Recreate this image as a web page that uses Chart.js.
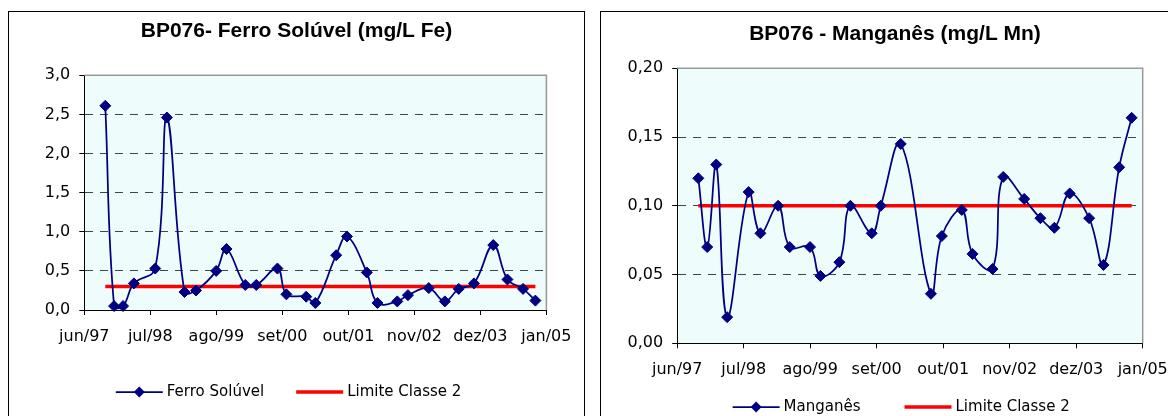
<!DOCTYPE html>
<html>
<head>
<meta charset="utf-8">
<script src="https://cdn.jsdelivr.net/npm/chart.js@4.4.1/dist/chart.umd.min.js"></script>
<style>
html, body { margin: 0; padding: 0; background: #fff; overflow: hidden; width: 1168px; height: 416px; }
.panel { position: absolute; top: 11px; height: 420px; border: 1px solid #000; background: #fff; }
#p1 { left: 8px; width: 575px; }
#p2 { left: 600px; width: 588px; }
canvas { position: absolute; left: 0; top: 0; }
</style>
</head>
<body>
<div class="panel" id="p1"><canvas id="chartFe" width="575" height="404"></canvas></div>
<div class="panel" id="p2"><canvas id="chartMn" width="588" height="404"></canvas></div>
<script>
// sample dates (BP076)
var dates = ['1997-10-05', '1997-11-27', '1998-01-20', '1998-03-24', '1998-07-30', '1998-10-09',
  '1999-01-23', '1999-04-01', '1999-07-30', '1999-10-01', '2000-01-22', '2000-03-27',
  '2000-08-02', '2000-09-25', '2001-01-22', '2001-03-16', '2001-07-19', '2001-09-23',
  '2002-01-20', '2002-03-23', '2002-07-20', '2002-09-23', '2003-01-26', '2003-05-01',
  '2003-07-23', '2003-10-23', '2004-02-17', '2004-05-11', '2004-08-13', '2004-10-26'];

var ferro = [2.61, 0.05, 0.05, 0.34, 0.53, 2.46, 0.23, 0.25, 0.50, 0.78, 0.32, 0.32,
  0.53, 0.20, 0.17, 0.09, 0.70, 0.94, 0.48, 0.09, 0.11, 0.19, 0.28, 0.11,
  0.27, 0.34, 0.83, 0.39, 0.27, 0.12];

var manganes = [0.120, 0.070, 0.130, 0.019, 0.110, 0.080, 0.100, 0.070, 0.070, 0.049, 0.059, 0.100,
  0.080, 0.100, 0.145, null, 0.036, 0.078, 0.097, 0.065, 0.054, 0.121, 0.105, 0.091,
  0.084, 0.109, 0.091, 0.057, 0.128, 0.164];

var limiteFe = 0.3;
var limiteMn = 0.10;

var tickLabels = ['jun/97', 'jul/98', 'ago/99', 'set/00', 'out/01', 'nov/02', 'dez/03', 'jan/05'];

// months since jun/97
function toMonth(d) {
  var p = d.split('-');
  return (+p[0] - 1997) * 12 + (+p[1] - 6) + (+p[2] - 1) / 30;
}

var plotFrame = {
  id: 'plotFrame',
  beforeDraw: function(chart) {
    var a = chart.chartArea, c = chart.ctx;
    c.save();
    c.fillStyle = '#EFFCFC';
    c.fillRect(a.left, a.top, a.right - a.left, a.bottom - a.top);
    c.restore();
  },
  beforeDatasetsDraw: function(chart) {
    var a = chart.chartArea, c = chart.ctx;
    c.save();
    c.strokeStyle = '#999';
    c.lineWidth = 1.5;
    c.beginPath();
    c.moveTo(a.left, a.top);
    c.lineTo(a.right, a.top);
    c.lineTo(a.right, a.bottom);
    c.stroke();
    c.restore();
  }
};

var bpLegend = {
  id: 'bpLegend',
  afterDraw: function(chart, args, opts) {
    var c = chart.ctx;
    var x = opts.x, y = opts.y, len = opts.lineLen;
    c.save();
    c.font = '15px "DejaVu Sans"';
    c.textBaseline = 'middle';
    chart.data.datasets.forEach(function(ds) {
      c.strokeStyle = ds.borderColor;
      c.lineWidth = ds.borderWidth;
      c.beginPath();
      c.moveTo(x, y);
      c.lineTo(x + len, y);
      c.stroke();
      if (ds.pointRadius > 0) {
        var cx = x + len / 2, r = ds.pointRadius;
        c.fillStyle = ds.backgroundColor;
        c.beginPath();
        c.moveTo(cx, y - r);
        c.lineTo(cx + r, y);
        c.lineTo(cx, y + r);
        c.lineTo(cx - r, y);
        c.closePath();
        c.fill();
      }
      c.fillStyle = '#000';
      c.fillText(ds.label, x + len + 4, y);
      x += len + 4 + c.measureText(ds.label).width + opts.gap;
    });
    c.restore();
  }
};

function lineChart(canvasId, title, label, values, limit, yMax, yStep, decimals, L) {
  var pts = [];
  for (var i = 0; i < dates.length; i++) {
    pts.push({ x: toMonth(dates[i]), y: values[i] });
  }
  var first = toMonth(dates[0]);
  var last = toMonth(dates[dates.length - 1]);
  var ctx = document.getElementById(canvasId).getContext('2d');
  return new Chart(ctx, {
    type: 'line',
    data: {
      datasets: [{
        label: label,
        data: pts,
        borderColor: '#000080',
        backgroundColor: '#000080',
        borderWidth: 1.75,
        pointStyle: 'rectRot',
        pointRadius: 5.5,
        pointBorderWidth: 1,
        tension: 0.4,
        spanGaps: true,
        clip: false
      }, {
        label: 'Limite Classe 2',
        data: [{ x: first, y: limit }, { x: last, y: limit }],
        borderColor: '#FF0000',
        backgroundColor: '#FF0000',
        borderWidth: 3.5,
        pointRadius: 0,
        tension: 0
      }]
    },
    options: {
      responsive: false,
      animation: false,
      devicePixelRatio: 1,
      layout: { padding: 0 },
      plugins: {
        legend: { display: false },
        tooltip: { enabled: false },
        title: {
          display: true,
          text: title,
          color: '#000',
          font: { family: 'Liberation Sans', size: 21, weight: 'bold', lineHeight: 1.2 },
          padding: { top: L.titleTop, bottom: L.titleBottom }
        },
        bpLegend: { x: L.legendX, y: L.legendY, gap: L.legendGap, lineLen: 47 }
      },
      scales: {
        x: {
          type: 'linear',
          min: 0,
          max: 91,
          afterFit: function(s) { s.height = L.xHeight; },
          border: { color: '#000', width: 1 },
          grid: { drawOnChartArea: false, tickLength: 5, tickColor: '#000' },
          ticks: {
            stepSize: 13,
            autoSkip: false,
            maxRotation: 0,
            padding: 12,
            color: '#000',
            font: { family: 'DejaVu Sans', size: 16 },
            callback: function(v) { return tickLabels[Math.round(v / 13)]; }
          }
        },
        y: {
          min: 0,
          max: yMax,
          afterFit: function(s) { s.width = L.yWidth; },
          border: { color: '#000', width: 1, dash: [8, 7] },
          grid: {
            color: function(c) {
              if (!c.tick || c.tick.value <= 0 || c.tick.value >= yMax - 1e-9) return 'rgba(0,0,0,0)';
              return '#444';
            },
            tickLength: 5,
            tickColor: '#000',
            tickBorderDash: []
          },
          ticks: {
            stepSize: yStep,
            padding: 9,
            color: '#000',
            font: { family: 'DejaVu Sans', size: 16 },
            callback: function(v) { return v.toFixed(decimals).replace('.', ','); }
          }
        },
        y2: {
          type: 'linear',
          position: 'right',
          afterFit: function(s) { s.width = L.rightGap; },
          grid: { display: false },
          ticks: { display: false },
          border: { display: false }
        }
      }
    },
    plugins: [plotFrame, bpLegend]
  });
}

lineChart('chartFe', 'BP076- Ferro Solúvel (mg/L Fe)', 'Ferro Solúvel', ferro, limiteFe, 3, 0.5, 1,
  { yWidth: 75.3, rightGap: 37.6, titleTop: 6.9, titleBottom: 31.2, xHeight: 106, legendX: 106.8, legendY: 380, legendGap: 32 });

lineChart('chartMn', 'BP076 - Manganês (mg/L Mn)', 'Manganês', manganes, limiteMn, 0.2, 0.05, 2,
  { yWidth: 76.2, rightGap: 46.3, titleTop: 9.9, titleBottom: 21.2, xHeight: 72.7, legendX: 131.6, legendY: 395, legendGap: 44 });
</script>
</body>
</html>
